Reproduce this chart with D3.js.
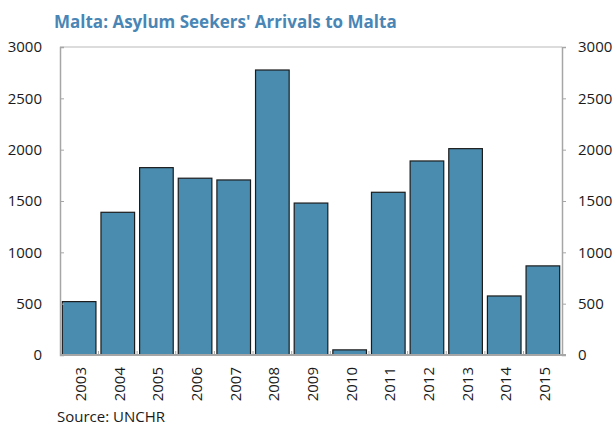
<!DOCTYPE html>
<html>
<head>
<meta charset="utf-8">
<script src="https://cdn.jsdelivr.net/npm/d3@7"></script>
<style>
  body { margin: 0; background: #fff; }
  text { font-family: "Open Sans", "Noto Sans", sans-serif; }
</style>
</head>
<body>
<div id="chart"></div>
<script>
const years = ["2003", "2004", "2005", "2006", "2007", "2008", "2009", "2010", "2011", "2012", "2013", "2014", "2015"];
const arrivals = [520, 1390, 1825, 1722, 1705, 2776, 1480, 50, 1585, 1890, 2010, 575, 868];
const yTicks = [0, 500, 1000, 1500, 2000, 2500, 3000];

const width = 616;
const height = 429;
const plotLeft = 60, plotRight = 562, plotTop = 47, plotBottom = 355;

const svg = d3.select('#chart')
    .append('svg')
    .attr('width', width)
    .attr('height', height);

const xScale = d3.scaleBand()
    .domain(years)
    .range([plotLeft, plotRight])
    .paddingInner(0.13)
    .paddingOuter(0.06);

const yScale = d3.scaleLinear()
    .domain([0, 3000])
    .range([plotBottom, plotTop]);

// title
svg.append('text')
    .attr('x', 54)
    .attr('y', 28)
    .attr('fill', '#4a86b5')
    .attr('font-size', 17)
    .attr('font-weight', 'bold')
    .text("Malta: Asylum Seekers' Arrivals to Malta");

// top border
svg.append('line')
    .attr('x1', plotLeft).attr('x2', plotRight)
    .attr('y1', plotTop).attr('y2', plotTop)
    .attr('stroke', '#d0d0d0')
    .attr('stroke-width', 1.5);

// bars
svg.selectAll('.bar')
    .data(years)
    .enter()
    .append('rect')
    .attr('class', 'bar')
    .attr('x', d => xScale(d))
    .attr('y', (d, i) => yScale(arrivals[i]))
    .attr('width', xScale.bandwidth())
    .attr('height', (d, i) => yScale(0) - yScale(arrivals[i]))
    .attr('fill', '#4a8caf')
    .attr('stroke', '#1c1c1c')
    .attr('stroke-width', 1.2);

// left axis
const yAxisLeft = d3.axisLeft(yScale)
    .tickValues(yTicks)
    .tickFormat(d3.format('d'))
    .tickSize(-4)
    .tickPadding(18);

const gl = svg.append('g')
    .attr('transform', `translate(${plotLeft}, 0)`)
    .call(yAxisLeft);

// right axis
const yAxisRight = d3.axisRight(yScale)
    .tickValues(yTicks)
    .tickFormat(d3.format('d'))
    .tickSize(4)
    .tickPadding(12);

const gr = svg.append('g')
    .attr('transform', `translate(${plotRight}, 0)`)
    .call(yAxisRight);

[gl, gr].forEach(g => {
    g.select('.domain').attr('stroke', '#a6a6a6').attr('stroke-width', 1.5);
    g.selectAll('.tick line').attr('stroke', '#a6a6a6');
    g.selectAll('.tick text')
        .attr('font-size', 15)
        .attr('fill', '#1a1a1a')
        .style('font-family', '"Open Sans", "Noto Sans", sans-serif');
});

// bottom axis
const boundaries = years.slice(1).map(y => xScale(y) - xScale.step() * xScale.paddingInner() / 2);
svg.selectAll('.xsep')
    .data(boundaries)
    .enter()
    .append('line')
    .attr('class', 'xsep')
    .attr('x1', d => d).attr('x2', d => d)
    .attr('y1', plotBottom).attr('y2', plotBottom - 4)
    .attr('stroke', '#a6a6a6');

svg.append('line')
    .attr('x1', plotLeft).attr('x2', plotRight + 4)
    .attr('y1', plotBottom).attr('y2', plotBottom)
    .attr('stroke', '#a6a6a6')
    .attr('stroke-width', 2);

// year labels, rotated
svg.selectAll('.xlab')
    .data(years)
    .enter()
    .append('text')
    .attr('class', 'xlab')
    .attr('transform', d => `translate(${xScale(d) + xScale.bandwidth() / 2 + 7}, 367) rotate(-90)`)
    .attr('text-anchor', 'end')
    .attr('font-size', 15)
    .attr('fill', '#1a1a1a')
    .text(d => d);

// source
svg.append('text')
    .attr('x', 57)
    .attr('y', 422)
    .attr('font-size', 15)
    .attr('fill', '#1a1a1a')
    .text('Source: UNCHR');
</script>
</body>
</html>
